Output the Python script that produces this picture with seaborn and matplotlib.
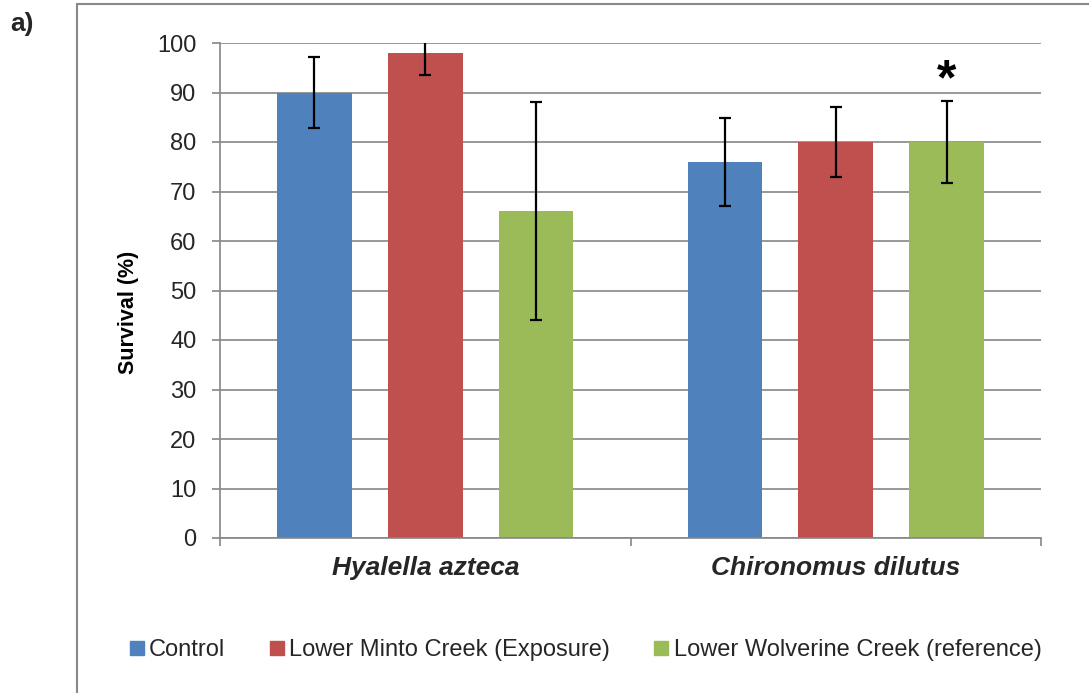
import matplotlib
matplotlib.use("Agg")
import matplotlib.pyplot as plt
from matplotlib.lines import Line2D
import numpy as np
import pandas as pd
import seaborn as sns

# Survival (%) of two test organisms in three sediments, mean ± SD
species = ["Hyalella azteca", "Chironomus dilutus"]
sites = ["Control", "Lower Minto Creek (Exposure)", "Lower Wolverine Creek (reference)"]
survival_hyalella = [90, 98, 66]
survival_chironomus = [76, 80, 80]
sd_hyalella = [7.1, 4.5, 22.0]
sd_chironomus = [8.9, 7.1, 8.2]
site_colors = ["#4F81BD", "#C0504D", "#9BBB59"]
yticks = list(range(0, 101, 10))

rows = []
for sp, vals, sds in [(species[0], survival_hyalella, sd_hyalella),
                      (species[1], survival_chironomus, sd_chironomus)]:
    for site, v, s in zip(sites, vals, sds):
        rows.append({"species": sp, "site": site, "survival": v, "sd": s})
df = pd.DataFrame(rows)

sns.set_theme(style="white")
plt.rcParams["font.family"] = ["Liberation Sans", "DejaVu Sans"]

W, H = 1089, 693
fig = plt.figure(figsize=(W / 100, H / 100), dpi=100)
ax = fig.add_axes([220 / W, 1 - 538 / H, (1041 - 220) / W, (538 - 43) / H])

sns.barplot(data=df, x="species", y="survival", hue="site", order=species,
            hue_order=sites, palette=site_colors, width=0.81, gap=0.325,
            errorbar=None, saturation=1, ax=ax, legend=False, zorder=2,
            linewidth=0)

# error bars placed on each drawn bar
for site, container in zip(sites, ax.containers):
    for sp, patch in zip(species, container.patches):
        xc = patch.get_x() + patch.get_width() / 2
        h = patch.get_height()
        err = df.loc[(df.site == site) & (df.species == sp), "sd"].iloc[0]
        ax.errorbar(xc, h, yerr=err, fmt="none", ecolor="black",
                    elinewidth=1.6, capsize=4.4, capthick=1.6, zorder=3)

# significance marker above the reference-site Chironomus bar
star_patch = ax.containers[2].patches[1]
ax.text(star_patch.get_x() + star_patch.get_width() / 2, 89.6, "*",
        ha="center", va="baseline", fontsize=36, fontweight="bold",
        color="black", zorder=4)

grid_color = "#868686"
ax.set_ylim(0, 100)
ax.set_xlim(-0.5, 1.5)
ax.set_yticks(yticks)
ax.set_yticklabels([str(t) for t in yticks], fontsize=17)
ax.yaxis.grid(True, color=grid_color, linewidth=1.2)
ax.set_axisbelow(True)
ax.tick_params(axis="y", which="major", direction="out", length=6,
               width=1.2, color=grid_color, pad=11, left=True)

# category labels on minor ticks, group boundaries as major ticks
ax.set_xticks([-0.5, 0.5, 1.5])
ax.set_xticklabels(["", "", ""])
ax.set_xticks([0, 1], minor=True)
ax.set_xticklabels(species, minor=True, fontsize=19, fontweight="bold",
                   fontstyle="italic")
ax.tick_params(axis="x", which="major", direction="out", length=6,
               width=1.2, color=grid_color, bottom=True)
ax.tick_params(axis="x", which="minor", length=0, pad=13)
ax.set_xlabel("")

for side in ["top", "right"]:
    ax.spines[side].set_visible(False)
for side in ["left", "bottom"]:
    ax.spines[side].set_color(grid_color)
    ax.spines[side].set_linewidth(1.2)

ax.set_ylabel("Survival (%)", fontsize=15.5, fontweight="bold", color="black")
ax.yaxis.set_label_coords((139 - 220) / (1041 - 220), (538 - 312) / (538 - 43))

# legend row beneath the chart
handles = [Line2D([], [], marker="s", linestyle="", color=c, markersize=9.5)
           for c in site_colors]
fig.legend(handles, sites, loc="center", ncol=3, frameon=False,
           bbox_to_anchor=(586 / W, 1 - 650 / H), fontsize=17,
           handlelength=0.55, handletextpad=0.25, columnspacing=1.9,
           borderpad=0)

# panel letter and chart-area frame
fig.text(10 / W, 1 - 24 / H, "a)", ha="left", va="center", fontsize=19,
         fontweight="bold")
frame_x = 76.5 / W
frame_y = 1 - 4.3 / H
fig.add_artist(Line2D([frame_x, frame_x], [0, frame_y], transform=fig.transFigure,
                      color="#898989", linewidth=1.5))
fig.add_artist(Line2D([frame_x, 1], [frame_y, frame_y], transform=fig.transFigure,
                      color="#898989", linewidth=1.5))

fig.savefig("out.png", dpi=100, facecolor="white")
